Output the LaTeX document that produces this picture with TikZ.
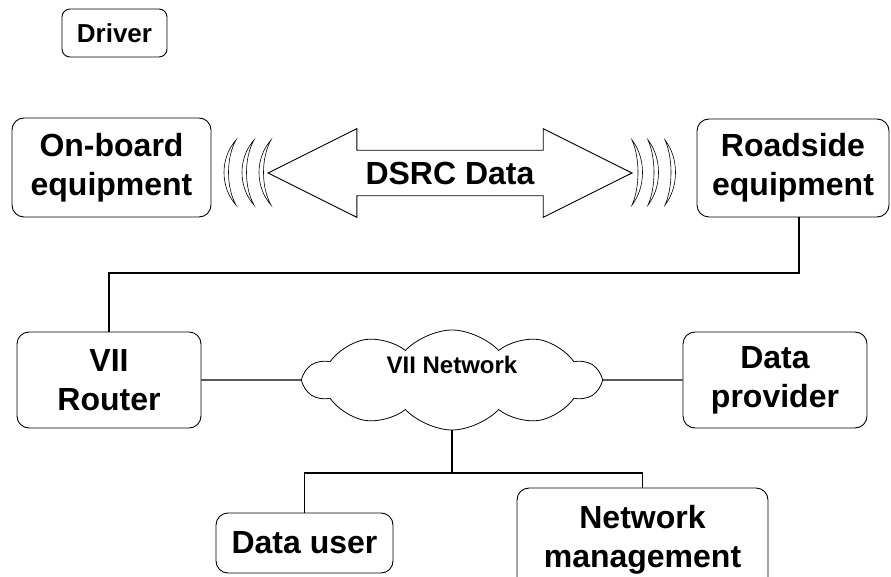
\documentclass[tikz,border=0pt]{standalone}
\usepackage{fontspec}
\setmainfont{Liberation Sans}
\usepackage{tikz}
\usetikzlibrary{shapes.symbols}
\usetikzlibrary{shapes.arrows}

\tikzset{
  unit/.style={draw, rounded corners=12pt, line width=0.9pt, align=center,
    inner sep=0pt, font=\bfseries\fontsize{32}{39}\selectfont},
  wire/.style={line width=1.3pt},
  wave/.style={line width=0.6pt, fill=white},
}

\begin{document}
\begin{tikzpicture}[x=1pt, y=-1pt]
\useasboundingbox (0,0) rectangle (891,577);

%Vehicle and roadside
\node[unit, rounded corners=8pt, minimum width=105pt, minimum height=48pt,
  font=\bfseries\fontsize{26}{30}\selectfont] (driver) at (114.5,33) {Driver};
\node[unit, minimum width=199pt, minimum height=99pt] (obe) at (111.5,167.5) {On-board\\equipment};
\node[unit, minimum width=192pt, minimum height=98pt] (rse) at (793,168) {Roadside\\equipment};

\node[shape=double arrow, draw, line width=0.9pt, double arrow head extend=21.5pt,
  double arrow tip angle=53, minimum height=364pt, inner xsep=4pt, inner ysep=11pt,
  font=\bfseries\fontsize{32}{37}\selectfont] (dsrc) at (450,173) {DSRC Data};

\foreach \x in {236,254,271} {
  \draw[wave] (\x,140) .. controls (\x-16,158) and (\x-16,187) .. (\x,205)
    .. controls (\x-10,187) and (\x-10,158) .. (\x,140) -- cycle;
}
\foreach \x in {632,648,665} {
  \draw[wave] (\x,140) .. controls (\x+14,158) and (\x+14,187) .. (\x,205)
    .. controls (\x+8,187) and (\x+8,158) .. (\x,140) -- cycle;
}

%Network side
\node[unit, minimum width=184pt, minimum height=96pt] (router) at (109,380) {VII\\Router};
\node[unit, minimum width=184pt, minimum height=96pt] (provider) at (775,380) {Data\\provider};
\node[unit, minimum width=177pt, minimum height=60pt] (user) at (304.5,543) {Data user};
\node[unit, minimum width=251pt, minimum height=104pt] (mgmt) at (642.5,540) {Network\\management};

\node[cloud, draw, cloud puffs=10, cloud puff arc=95, cloud ignores aspect,
  minimum width=295pt, minimum height=100pt, inner sep=0pt, line width=0.8pt] (net) at (452,380) {};
\node[font=\bfseries\fontsize{24}{28}\selectfont] (netname) at (452,365) {VII Network};

\coordinate (trunk) at (109,273);
\coordinate (split) at (452,473);

\draw[wire] ([xshift=6pt]rse.south) |- (trunk) -- (router.north);
\draw[wire] (router.east) -- (net.west);
\draw[wire] (net.east) -- (provider.west);
\draw[wire] (net.south) -- (split);
\draw[wire] (user.north) |- (split) -| (mgmt.north);
\end{tikzpicture}
\end{document}
